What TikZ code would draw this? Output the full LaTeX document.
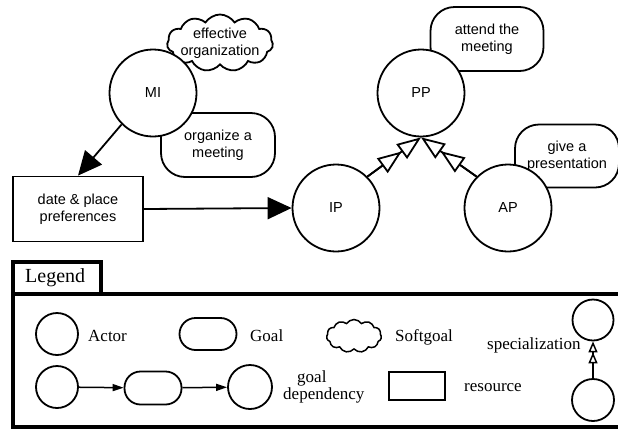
\documentclass[tikz,border=0pt]{standalone}
\usepackage{fontspec}
\newfontfamily\sansf{Liberation Sans}
\newfontfamily\serf{Liberation Serif}
\usetikzlibrary{shapes.symbols,arrows.meta,calc}

\tikzset{
  base/.style={draw=black, line width=1.8pt, fill=white, inner sep=0pt,
    font=\sansf\fontsize{14.5}{17.5}\selectfont, align=center},
  actor/.style={base, circle, minimum size=#1},
  actor/.default=87pt,
  goalbox/.style={base, rectangle, rounded corners=#1},
  goalbox/.default=24pt,
  softgoal/.style={base, cloud, cloud puffs=11, cloud puff arc=115,
    cloud ignores aspect},
  resbox/.style={base, rectangle},
  dep/.style={line width=1.8pt, -{Triangle[length=24pt,width=22pt]}},
  spec/.style={line width=1.8pt, -{Triangle[length=24pt,width=18pt,fill=white]}},
  smalldep/.style={line width=1.5pt, -{Triangle[length=11pt,width=7pt]}},
  smallspec/.style={line width=1.5pt, -{Triangle[length=11pt,width=9pt,fill=white]}},
  legtext/.style={font=\serf\fontsize{17}{17}\selectfont, inner sep=0pt, align=left},
  legline/.style={line width=3.5pt},
}

\begin{document}
\begin{tikzpicture}[x=1pt,y=-1pt]
\useasboundingbox (0,0) rectangle (618,429);

% goals and softgoal sit behind the actors
\node[softgoal, minimum width=106pt, minimum height=57pt, inner sep=-5pt] (effective) at (220,43) {effective\\organization};
\node[goalbox, minimum width=114pt, minimum height=64pt] (organize) at (218,145) {organize a\\meeting};
\node[goalbox, minimum width=113pt, minimum height=64pt] (attend) at (487,39) {attend the\\meeting};
\node[goalbox, minimum width=104pt, minimum height=63pt] (present) at (567,156) {give a\\presentation};

% actors
\node[actor] (MI) at (153,93) {MI};
\node[actor] (PP) at (421,93) {PP};
\node[actor] (IP) at (336,208) {IP};
\node[actor] (AP) at (508,208) {AP};

% resource
\node[resbox, minimum width=130pt, minimum height=65pt] (res) at (78,209) {date \& place\\preferences};

% dependencies
\draw[dep] (MI.225) -- (res.north);
\draw[dep] (res.east) -- (IP.west);

% specializations: two stacked hollow triangles on each link
\draw[spec] (IP.45) -- (PP.south);
\draw[spec] (IP.45) -- ($(PP.south)!24pt!(IP.45)$);
\draw[spec] (AP.135) -- (PP.south);
\draw[spec] (AP.135) -- ($(PP.south)!24pt!(AP.135)$);

% legend frame
\draw[legline] (13,262) rectangle (101,294);
\node[legtext, font=\serf\fontsize{20}{20}\selectfont, anchor=west] (legendtitle) at (25,278) {Legend};
\draw[legline, line cap=rect] (625,294) -- (13,294) -- (13,427) -- (625,427);

% legend entries
\node[actor=42pt] (lactor) at (57,334) {};
\node[legtext, anchor=west] (lactortext) at (88,336) {Actor};

\node[goalbox=16pt, minimum width=57pt, minimum height=32pt] (lgoal) at (208,334) {};
\node[legtext, anchor=west] (lgoaltext) at (250,336) {Goal};

\node[softgoal, minimum width=55pt, minimum height=33pt, line width=1.5pt] (lsoft) at (354,336) {};
\node[legtext, anchor=west] (lsofttext) at (395,337) {Softgoal};

\node[actor=42pt] (ldepa) at (57,387) {};
\node[goalbox=16pt, minimum width=57pt, minimum height=33pt] (ldepg) at (153,388) {};
\node[actor=44pt] (ldepb) at (250,387) {};
\draw[smalldep] (ldepa) -- (ldepg);
\draw[smalldep] (ldepg) -- (ldepb);
\node[legtext, anchor=west] (ldeptext) at (283,387) {\hspace*{14pt}goal\\dependency};

\node[resbox, minimum width=56pt, minimum height=28pt] (lres) at (417,386) {};
\node[legtext, anchor=west] (lrestext) at (464,388) {resource};

\node[actor=41pt] (lspectop) at (593,320) {};
\node[actor=42pt] (lspecbot) at (593,400) {};
\draw[smallspec] (lspecbot) -- (lspectop);
\draw[smallspec] (lspecbot) -- ($(lspectop.south)!11pt!(lspecbot.north)$);
\node[legtext, anchor=west] (lspectext) at (487,345) {specialization};
\end{tikzpicture}
\end{document}
